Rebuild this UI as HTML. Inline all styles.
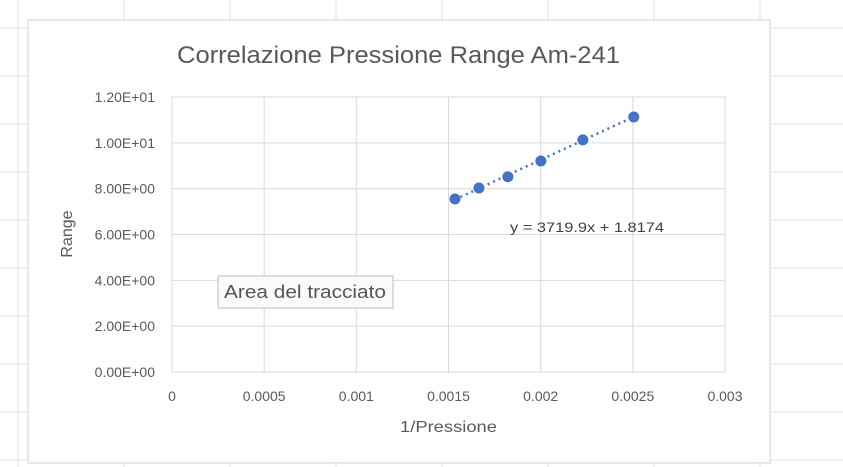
<!DOCTYPE html>
<html><head><meta charset="utf-8"><style>
body{margin:0;background:#fff;font-family:"Liberation Sans",sans-serif;}
#wrap{position:relative;width:843px;height:467px;overflow:hidden;background:#fff}
svg{position:absolute;left:0;top:0}
</style></head><body>
<div id="wrap">
<svg width="843" height="467">
<g id="sheetgrid"></g>
<rect x="28" y="20" width="742" height="443" fill="#fff" stroke="#d0d0d0"/>
<text x="177" y="63" font-size="24" textLength="443" lengthAdjust="spacingAndGlyphs" fill="#595959">Correlazione Pressione Range Am-241</text>
<g id="grid"></g>
<g id="ticks"></g>
<path id="trend" fill="none" stroke="#4472c4" stroke-width="2.5" stroke-dasharray="2,4"/>
<g id="pts"></g>
<text x="510" y="232" font-size="14" textLength="154" lengthAdjust="spacingAndGlyphs" fill="#404040">y = 3719.9x + 1.8174</text>
<text x="72" y="234" font-size="16" fill="#595959" text-anchor="middle" transform="rotate(-90 72 234)">Range</text>
<text x="400" y="432" font-size="16" textLength="97" lengthAdjust="spacingAndGlyphs" fill="#595959">1/Pressione</text>
<rect x="218" y="276" width="175" height="32" fill="#fafafa" stroke="#bdbdbd"/>
<text x="224" y="298" font-size="18" textLength="162" lengthAdjust="spacingAndGlyphs" fill="#555">Area del tracciato</text>
</svg>
</div>
<script>
const xData=[0.001535,0.001665,0.001822,0.002001,0.002229,0.002505];
const yData=[7.55,8.03,8.52,9.21,10.13,11.13];
const xTicks=[0,0.0005,0.001,0.0015,0.002,0.0025,0.003];
const xTickLabels=["0","0.0005","0.001","0.0015","0.002","0.0025","0.003"];
const yTicks=[0,2,4,6,8,10,12];
const yTickLabels=["0.00E+00","2.00E+00","4.00E+00","6.00E+00","8.00E+00","1.00E+01","1.20E+01"];
const slope=3719.9, intercept=1.8174;
const NS="http://www.w3.org/2000/svg";
const X=v=>172+v/0.003*553, Y=v=>372-v/12*275;
function mk(t,a,p){const e=document.createElementNS(NS,t);for(const k in a)e.setAttribute(k,a[k]);p.appendChild(e);return e;}
const sg=document.getElementById('sheetgrid');
for(let x=18;x<843;x+=106){const l=mk('line',{x1:x,x2:x,y1:0,y2:467,stroke:'#e1e1e1'},sg);

}
for(let y=28;y<467;y+=48){const l=mk('line',{x1:0,x2:843,y1:y,y2:y,stroke:'#e1e1e1'},sg);

}
const g=document.getElementById('grid'),tk=document.getElementById('ticks');
xTicks.forEach((v,i)=>{const l=mk('line',{x1:X(v),x2:X(v),y1:Y(12),y2:Y(0),stroke:'#d9d9d9'},g);


const t=mk('text',{x:X(v),y:401,'text-anchor':'middle','font-size':14,fill:'#595959'},tk);t.textContent=xTickLabels[i];

});
yTicks.forEach((v,i)=>{const l=mk('line',{x1:X(0),x2:X(0.003),y1:Y(v),y2:Y(v),stroke:'#d9d9d9'},g);


const t=mk('text',{x:155,y:Y(v)+5,'text-anchor':'end','font-size':14,fill:'#595959'},tk);t.textContent=yTickLabels[i];

});
const x0=xData[0],x1=xData[xData.length-1];
document.getElementById('trend').setAttribute('d',`M${X(x0)},${Y(slope*x0+intercept)}L${X(x1)},${Y(slope*x1+intercept)}`);
const pg=document.getElementById('pts');
xData.forEach((v,i)=>{const c=mk('circle',{cx:X(v),cy:Y(yData[i]),r:5.5,fill:'#4472c4'},pg);

});
</script>
</body></html>
